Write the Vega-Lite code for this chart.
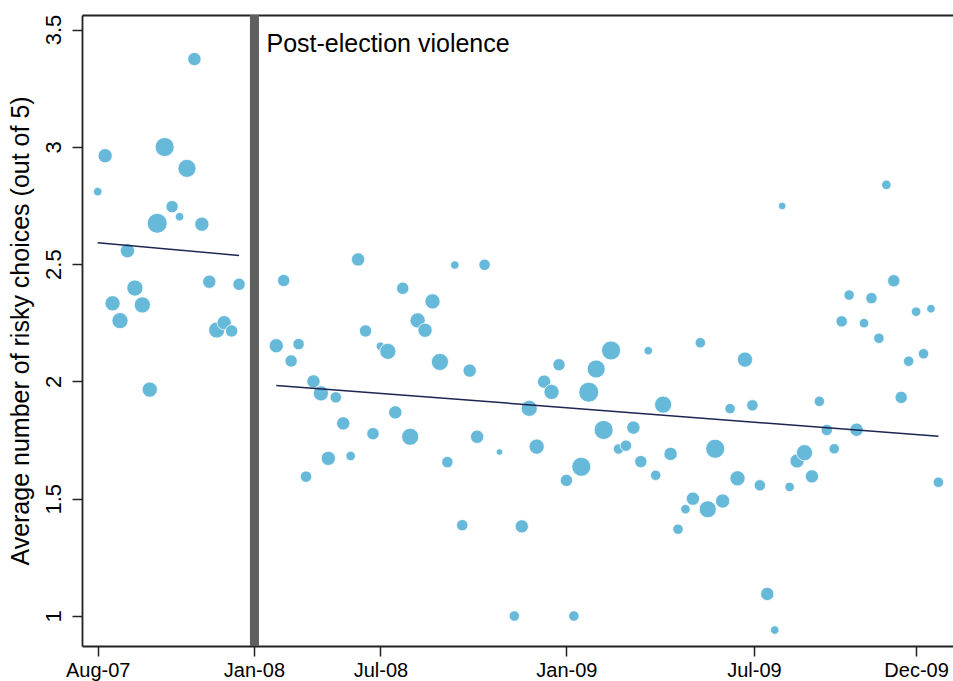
{
  "$schema": "https://vega.github.io/schema/vega-lite/v6.json",
  "width": 871,
  "height": 631,
  "autosize": "none",
  "padding": {"left": 82, "top": 15, "right": 0, "bottom": 35},
  "background": "white",
  "datasets": {
    "weeks": [
      {"week": 0, "risky": 2.809, "n": 20},
      {"week": 1, "risky": 2.962, "n": 56},
      {"week": 2, "risky": 2.333, "n": 64},
      {"week": 3, "risky": 2.259, "n": 72},
      {"week": 4, "risky": 2.557, "n": 56},
      {"week": 5, "risky": 2.398, "n": 72},
      {"week": 6, "risky": 2.326, "n": 72},
      {"week": 7, "risky": 1.965, "n": 64},
      {"week": 8, "risky": 2.674, "n": 110},
      {"week": 9, "risky": 2.999, "n": 100},
      {"week": 10, "risky": 2.745, "n": 42},
      {"week": 11, "risky": 2.702, "n": 20},
      {"week": 12, "risky": 2.908, "n": 90},
      {"week": 13, "risky": 3.374, "n": 49},
      {"week": 14, "risky": 2.67, "n": 56},
      {"week": 15, "risky": 2.425, "n": 49},
      {"week": 16, "risky": 2.219, "n": 72},
      {"week": 17, "risky": 2.25, "n": 56},
      {"week": 18, "risky": 2.215, "n": 42},
      {"week": 19, "risky": 2.414, "n": 42},
      {"week": 24, "risky": 2.152, "n": 56},
      {"week": 25, "risky": 2.43, "n": 42},
      {"week": 26, "risky": 2.087, "n": 42},
      {"week": 27, "risky": 2.159, "n": 36},
      {"week": 28, "risky": 1.594, "n": 36},
      {"week": 29, "risky": 2.0, "n": 49},
      {"week": 30, "risky": 1.949, "n": 64},
      {"week": 31, "risky": 1.672, "n": 56},
      {"week": 32, "risky": 1.932, "n": 36},
      {"week": 33, "risky": 1.821, "n": 49},
      {"week": 34, "risky": 1.682, "n": 25},
      {"week": 35, "risky": 2.52, "n": 49},
      {"week": 36, "risky": 2.215, "n": 42},
      {"week": 37, "risky": 1.777, "n": 42},
      {"week": 38, "risky": 2.15, "n": 20},
      {"week": 39, "risky": 2.128, "n": 72},
      {"week": 40, "risky": 1.868, "n": 49},
      {"week": 41, "risky": 2.397, "n": 42},
      {"week": 42, "risky": 1.764, "n": 81},
      {"week": 43, "risky": 2.26, "n": 64},
      {"week": 44, "risky": 2.218, "n": 56},
      {"week": 45, "risky": 2.341, "n": 64},
      {"week": 46, "risky": 2.083, "n": 81},
      {"week": 47, "risky": 1.656, "n": 36},
      {"week": 48, "risky": 2.496, "n": 20},
      {"week": 49, "risky": 1.387, "n": 36},
      {"week": 50, "risky": 2.046, "n": 49},
      {"week": 51, "risky": 1.764, "n": 49},
      {"week": 52, "risky": 2.497, "n": 36},
      {"week": 54, "risky": 1.699, "n": 12},
      {"week": 56, "risky": 1.0, "n": 30},
      {"week": 57, "risky": 1.382, "n": 49},
      {"week": 58, "risky": 1.885, "n": 72},
      {"week": 59, "risky": 1.722, "n": 64},
      {"week": 60, "risky": 1.999, "n": 49},
      {"week": 61, "risky": 1.955, "n": 64},
      {"week": 62, "risky": 2.071, "n": 42},
      {"week": 63, "risky": 1.578, "n": 42},
      {"week": 64, "risky": 1.0, "n": 30},
      {"week": 65, "risky": 1.636, "n": 100},
      {"week": 66, "risky": 1.954, "n": 110},
      {"week": 67, "risky": 2.053, "n": 90},
      {"week": 68, "risky": 1.793, "n": 100},
      {"week": 69, "risky": 2.132, "n": 100},
      {"week": 70, "risky": 1.712, "n": 30},
      {"week": 71, "risky": 1.726, "n": 36},
      {"week": 72, "risky": 1.803, "n": 49},
      {"week": 73, "risky": 1.658, "n": 42},
      {"week": 74, "risky": 2.131, "n": 20},
      {"week": 75, "risky": 1.6, "n": 30},
      {"week": 76, "risky": 1.901, "n": 81},
      {"week": 77, "risky": 1.691, "n": 49},
      {"week": 78, "risky": 1.37, "n": 30},
      {"week": 79, "risky": 1.455, "n": 25},
      {"week": 80, "risky": 1.5, "n": 49},
      {"week": 81, "risky": 2.165, "n": 30},
      {"week": 82, "risky": 1.455, "n": 81},
      {"week": 83, "risky": 1.713, "n": 100},
      {"week": 84, "risky": 1.49, "n": 56},
      {"week": 85, "risky": 1.884, "n": 30},
      {"week": 86, "risky": 1.587, "n": 64},
      {"week": 87, "risky": 2.093, "n": 64},
      {"week": 88, "risky": 1.898, "n": 36},
      {"week": 89, "risky": 1.557, "n": 36},
      {"week": 90, "risky": 1.094, "n": 49},
      {"week": 91, "risky": 0.94, "n": 20},
      {"week": 92, "risky": 2.748, "n": 16},
      {"week": 93, "risky": 1.55, "n": 25},
      {"week": 94, "risky": 1.661, "n": 56},
      {"week": 95, "risky": 1.696, "n": 72},
      {"week": 96, "risky": 1.595, "n": 49},
      {"week": 97, "risky": 1.915, "n": 30},
      {"week": 98, "risky": 1.793, "n": 36},
      {"week": 99, "risky": 1.713, "n": 30},
      {"week": 100, "risky": 2.256, "n": 36},
      {"week": 101, "risky": 2.368, "n": 30},
      {"week": 102, "risky": 1.794, "n": 49},
      {"week": 103, "risky": 2.248, "n": 25},
      {"week": 104, "risky": 2.355, "n": 36},
      {"week": 105, "risky": 2.184, "n": 30},
      {"week": 106, "risky": 2.838, "n": 25},
      {"week": 107, "risky": 2.429, "n": 42},
      {"week": 108, "risky": 1.932, "n": 42},
      {"week": 109, "risky": 2.086, "n": 30},
      {"week": 110, "risky": 2.297, "n": 25},
      {"week": 111, "risky": 2.118, "n": 30},
      {"week": 112, "risky": 2.31, "n": 20},
      {"week": 113, "risky": 1.57, "n": 30}
    ],
    "fits": [
      {"period": "pre", "week": 0, "risky": 2.591},
      {"period": "pre", "week": 19, "risky": 2.537},
      {"period": "post", "week": 24, "risky": 1.983},
      {"period": "post", "week": 113, "risky": 1.766}
    ],
    "events": [
      {"week": 21.07, "label": "Post-election violence"}
    ]
  },
  "resolve": {"axis": {"x": "independent"}},
  "layer": [
    {
      "data": {"name": "events"},
      "mark": {"type": "rule", "strokeWidth": 9, "color": "#5f5f5f"},
      "encoding": {
        "x": {"field": "week", "type": "quantitative", "axis": null,
          "scale": {"domain": [-2.11, 114.96], "nice": false, "zero": false}}
      }
    },
    {
      "data": {"name": "weeks"},
      "mark": {"type": "circle", "color": "#67b9d9", "opacity": 1, "stroke": "white", "strokeWidth": 0.8},
      "encoding": {
        "x": {"field": "week", "type": "quantitative",
          "axis": {
            "orient": "bottom",
            "title": null,
            "values": [0, 21, 38, 63, 88.2, 110],
            "labelFontSize": 20,
            "labelPadding": 4,
            "labelExpr": "datum.value < 10 ? 'Aug-07' : datum.value < 30 ? 'Jan-08' : datum.value < 50 ? 'Jul-08' : datum.value < 75 ? 'Jan-09' : datum.value < 100 ? 'Jul-09' : 'Dec-09'"
          }},
        "y": {"field": "risky", "type": "quantitative",
          "scale": {"domain": [0.872, 3.562], "nice": false, "zero": false},
          "axis": {
            "title": "Average number of risky choices (out of 5)",
            "titleFontSize": 25,
            "titlePadding": 9,
            "values": [1, 1.5, 2, 2.5, 3, 3.5],
            "format": "~g",
            "labelFontSize": 22,
            "labelAngle": -90,
            "labelPadding": 7
          }},
        "size": {"field": "n", "type": "quantitative", "legend": null,
          "scale": {"domain": [0, 110], "range": [0, 400]}}
      }
    },
    {
      "data": {"name": "fits"},
      "mark": {"type": "line", "color": "#1c2452", "strokeWidth": 1.5},
      "encoding": {
        "x": {"field": "week", "type": "quantitative",
          "axis": {"orient": "top", "title": null, "labels": false, "ticks": false, "domain": true}},
        "y": {"field": "risky", "type": "quantitative"},
        "detail": {"field": "period"}
      }
    },
    {
      "data": {"name": "events"},
      "mark": {"type": "text", "align": "left", "baseline": "alphabetic", "dx": 12, "fontSize": 25, "color": "black"},
      "encoding": {
        "x": {"field": "week", "type": "quantitative", "axis": null},
        "y": {"datum": 3.404},
        "text": {"field": "label"}
      }
    }
  ],
  "config": {
    "font": "Liberation Sans",
    "view": {"stroke": null},
    "axis": {
      "grid": false,
      "domainColor": "#222222",
      "domainWidth": 1.8,
      "tickColor": "#222222",
      "tickWidth": 1.5,
      "tickSize": 10,
      "labelColor": "black",
      "titleColor": "black",
      "titleFontWeight": "normal"
    }
  }
}
